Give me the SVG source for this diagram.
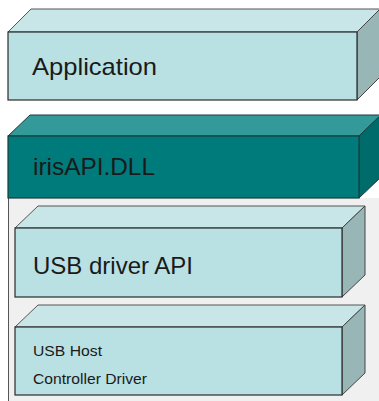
<svg xmlns="http://www.w3.org/2000/svg" width="379" height="401" viewBox="0 0 379 401">
  <style>
    .front { fill: #b9e0e3; stroke: #2b2b2b; stroke-width: 1.2; }
    .top { fill: #c8e6e8; stroke: #555; stroke-width: 1; }
    .side { fill: #98b6b6; stroke: #444; stroke-width: 1; }
    .tfront { fill: #007b7b; stroke: #1c3c3c; stroke-width: 1.2; }
    .ttop { fill: #339999; stroke: #1c3c3c; stroke-width: 1; }
    .tside { fill: #006b6b; stroke: #1c3c3c; stroke-width: 1; }
    .lbl { font-family: "Liberation Sans", Arial, sans-serif; fill: #1a1a1a; }
    .big { font-size: 24px; }
    .small { font-size: 15px; }
  </style>

  <rect width="379" height="401" fill="#ffffff"/>

  <!-- lower layer panel -->
  <g id="panel">
    <rect x="8" y="198" width="371" height="203" fill="#f0f0f0"/>
    <line x1="8.5" y1="198" x2="8.5" y2="401" stroke="#555" stroke-width="1"/>
  </g>

  <g id="application">
    <polygon class="top" points="8,32 31,9 380,9 357,32"/>
    <polygon class="side" points="357,32 380,9 380,77 357,100"/>
    <rect class="front" x="8" y="32" width="349" height="68"/>
    <text class="lbl big" x="32" y="75" textLength="125" lengthAdjust="spacingAndGlyphs">Application</text>
  </g>

  <g id="irisapi">
    <polygon class="ttop" points="8,136 30,115 381,115 359,136"/>
    <polygon class="tside" points="359,136 381,115 381,177 359,198"/>
    <rect class="tfront" x="8" y="136" width="351" height="62"/>
    <text class="lbl big" x="33" y="175" textLength="122" lengthAdjust="spacingAndGlyphs">irisAPI.DLL</text>
  </g>

  <g id="usb-driver-api">
    <polygon class="top" points="15,228 38,206 365,206 342,228"/>
    <polygon class="side" points="342,228 365,206 365,275 342,297"/>
    <rect class="front" x="15" y="228" width="327" height="69"/>
    <text class="lbl big" x="33" y="274" textLength="160" lengthAdjust="spacingAndGlyphs">USB driver API</text>
  </g>

  <g id="usb-host-controller-driver">
    <polygon class="top" points="15,327 38,305 365,305 342,327"/>
    <polygon class="side" points="342,327 365,305 365,373 342,395"/>
    <rect class="front" x="15" y="327" width="327" height="68"/>
    <text class="lbl small" x="33" y="356" textLength="69" lengthAdjust="spacingAndGlyphs">USB Host</text>
    <text class="lbl small" x="33" y="384" textLength="114" lengthAdjust="spacingAndGlyphs">Controller Driver</text>
  </g>
</svg>
